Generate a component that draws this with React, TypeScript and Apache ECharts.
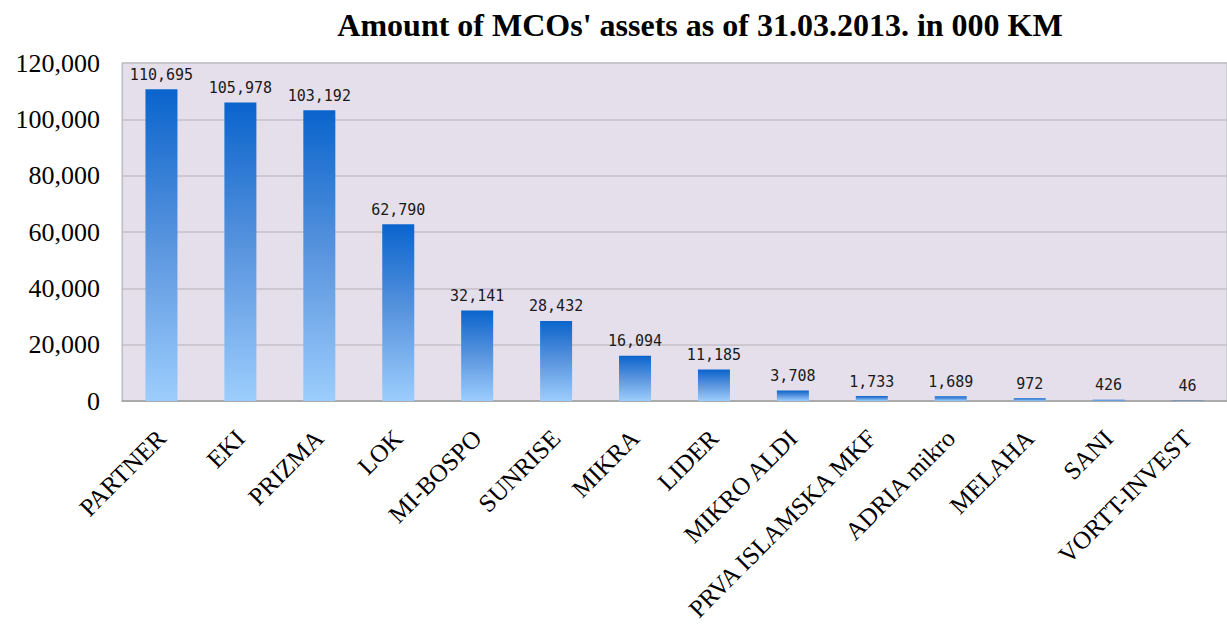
import React, { useEffect, useRef } from "react";
import * as echarts from "echarts";

const categories = [
  "PARTNER",
  "EKI",
  "PRIZMA",
  "LOK",
  "MI-BOSPO",
  "SUNRISE",
  "MIKRA",
  "LIDER",
  "MIKRO ALDI",
  "PRVA ISLAMSKA MKF",
  "ADRIA mikro",
  "MELAHA",
  "SANI",
  "VORTT-INVEST",
];
const assets = [110695, 105978, 103192, 62790, 32141, 28432, 16094, 11185, 3708, 1733, 1689, 972, 426, 46];
const titleText = "Amount of MCOs' assets as of 31.03.2013. in 000 KM";
const yMin = 0;
const yMax = 120000;
const yStep = 20000;

const fmt = (v: number) => v.toLocaleString("en-US");

export default function App() {
  const ref = useRef<HTMLDivElement>(null);
  useEffect(() => {
    if (!ref.current) return;
    const chart = echarts.init(ref.current, undefined, { renderer: "svg" });
    chart.setOption({
      animation: false,
      backgroundColor: "#ffffff",
      title: {
        text: titleText,
        left: 695,
        top: 4,
        textAlign: "center",
        textStyle: {
          fontFamily: "Liberation Serif",
          fontWeight: "bold",
          fontSize: 32,
          color: "#000",
        },
      },
      grid: {
        left: 122,
        right: -25,
        top: 63,
        bottom: 233,
        show: true,
        backgroundColor: "#e4dfeb",
        borderColor: "#bdbdbd",
        borderWidth: 1,
      },
      xAxis: {
        type: "category",
        data: categories,
        axisLine: { show: true, lineStyle: { color: "#a0a0a0", width: 1.5 } },
        axisTick: { show: false },
        axisLabel: {
          rotate: 45,
          interval: 0,
          margin: 33,
          fontFamily: "Liberation Serif",
          fontSize: 25,
          color: "#000",
        },
      },
      yAxis: {
        type: "value",
        min: yMin,
        max: yMax,
        interval: yStep,
        axisLine: { show: true, lineStyle: { color: "#bdbdbd" } },
        axisTick: { show: false },
        splitLine: { lineStyle: { color: "#c4c0c8", width: 1.5 } },
        axisLabel: {
          margin: 22,
          formatter: (v: number) => fmt(v),
          fontFamily: "Liberation Serif",
          fontSize: 26,
          color: "#000",
        },
      },
      series: [
        {
          type: "bar",
          data: assets,
          barWidth: 32,
          itemStyle: {
            color: new echarts.graphic.LinearGradient(0, 0, 0, 1, [
              { offset: 0, color: "#0a64cc" },
              { offset: 0.5, color: "#5a95de" },
              { offset: 1, color: "#9ccdfd" },
            ]),
          },
          label: {
            show: true,
            position: "top",
            distance: 7,
            formatter: (p: any) => fmt(p.value),
            fontFamily: "DejaVu Sans Mono",
            fontSize: 15,
            color: "#1a1a1a",
          },
        },
      ],
    });
    return () => chart.dispose();
  }, []);
  return (
    <div
      ref={ref}
      style={{ position: "fixed", left: 0, top: 0, width: 1227, height: 634 }}
    />
  );
}
